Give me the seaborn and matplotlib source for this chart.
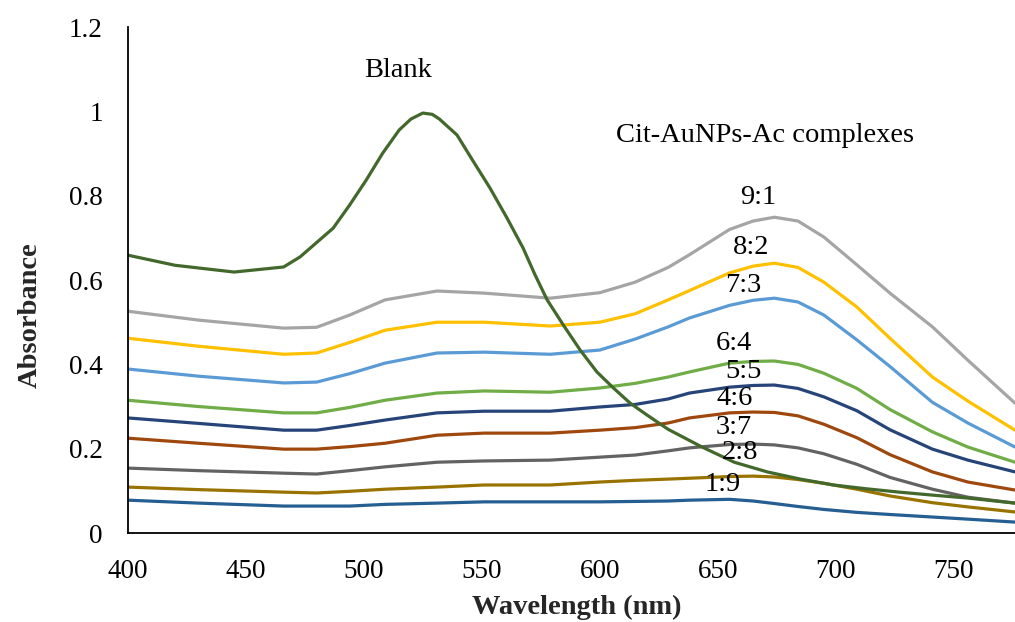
import pandas as pd
import matplotlib.pyplot as plt
import seaborn as sns

# wavelength grid shared by the Cit-AuNPs-Ac complex spectra (nm)
wavelength = [400, 430, 466, 480, 494, 509, 531, 551, 579, 600, 615, 629,
              638, 655, 665, 674, 684, 695, 709, 723, 741, 756, 776]

abs_9_1 = [0.526, 0.505, 0.486, 0.488, 0.517, 0.553, 0.574, 0.569, 0.557, 0.570, 0.595, 0.630,
           0.660, 0.720, 0.740, 0.749, 0.740, 0.702, 0.636, 0.569, 0.489, 0.410, 0.308]
abs_8_2 = [0.462, 0.443, 0.424, 0.427, 0.452, 0.481, 0.500, 0.500, 0.491, 0.500, 0.520, 0.553,
           0.575, 0.617, 0.633, 0.640, 0.630, 0.595, 0.536, 0.462, 0.370, 0.313, 0.244]
abs_7_3 = [0.389, 0.372, 0.356, 0.358, 0.378, 0.403, 0.427, 0.429, 0.424, 0.434, 0.460, 0.489,
           0.510, 0.540, 0.552, 0.557, 0.548, 0.517, 0.458, 0.395, 0.310, 0.261, 0.204]
abs_6_4 = [0.315, 0.300, 0.285, 0.285, 0.298, 0.315, 0.332, 0.337, 0.334, 0.344, 0.355, 0.370,
           0.382, 0.403, 0.407, 0.408, 0.400, 0.379, 0.343, 0.293, 0.240, 0.204, 0.168]
abs_5_5 = [0.273, 0.260, 0.244, 0.244, 0.255, 0.268, 0.285, 0.289, 0.289, 0.299, 0.305, 0.318,
           0.332, 0.346, 0.350, 0.351, 0.343, 0.323, 0.290, 0.245, 0.199, 0.173, 0.145]
abs_4_6 = [0.225, 0.213, 0.199, 0.199, 0.205, 0.213, 0.232, 0.237, 0.237, 0.244, 0.250, 0.261,
           0.273, 0.285, 0.287, 0.286, 0.278, 0.258, 0.226, 0.186, 0.145, 0.121, 0.102]
abs_3_7 = [0.154, 0.148, 0.142, 0.140, 0.148, 0.157, 0.168, 0.171, 0.173, 0.180, 0.185, 0.195,
           0.202, 0.210, 0.211, 0.209, 0.202, 0.188, 0.163, 0.132, 0.104, 0.085, 0.071]
abs_2_8 = [0.109, 0.103, 0.097, 0.095, 0.099, 0.104, 0.109, 0.114, 0.114, 0.121, 0.125, 0.128,
           0.130, 0.134, 0.135, 0.133, 0.127, 0.118, 0.104, 0.088, 0.072, 0.062, 0.050]
abs_1_9 = [0.078, 0.071, 0.064, 0.064, 0.064, 0.068, 0.071, 0.074, 0.074, 0.074, 0.075, 0.076,
           0.078, 0.080, 0.076, 0.070, 0.063, 0.056, 0.049, 0.044, 0.038, 0.033, 0.026]

# blank (citrate AuNPs) spectrum
blank_wl = [400, 420, 445, 466, 473, 487, 494, 501, 508, 515, 520, 525, 529, 532, 539.5,
            546, 553.5, 560.7, 567.5, 572.6, 577.7, 584.6, 591.7, 598.8, 605.8, 612.9,
            620, 629, 643, 657, 671, 685, 699, 713, 727, 741, 756, 776]
blank_abs = [0.659, 0.635, 0.619, 0.631, 0.655, 0.723, 0.778, 0.837, 0.901, 0.956,
             0.982, 0.996, 0.993, 0.982, 0.944, 0.885, 0.818, 0.747, 0.676, 0.612, 0.553,
             0.493, 0.434, 0.382, 0.344, 0.308, 0.280, 0.246, 0.205, 0.168, 0.145,
             0.128, 0.114, 0.105, 0.097, 0.090, 0.083, 0.071]

ratios = ["9:1", "8:2", "7:3", "6:4", "5:5", "4:6", "3:7", "2:8", "1:9"]
series = [abs_9_1, abs_8_2, abs_7_3, abs_6_4, abs_5_5, abs_4_6, abs_3_7, abs_2_8, abs_1_9]
colors = ["#A5A5A5", "#FFC000", "#5B9BD5", "#70AD47", "#264478",
          "#9E480E", "#636363", "#997300", "#255E91"]
blank_color = "#43682B"

# label anchor positions (nm, absorbance)
label_x = [667, 664, 661, 657, 661, 657, 657, 659.5, 652]
label_y = [0.795, 0.678, 0.588, 0.45, 0.382, 0.32, 0.251, 0.19, 0.114]

frames = [pd.DataFrame({"Wavelength": wavelength, "Absorbance": vals, "Sample": r})
          for r, vals in zip(ratios, series)]
frames.append(pd.DataFrame({"Wavelength": blank_wl, "Absorbance": blank_abs, "Sample": "Blank"}))
data = pd.concat(frames, ignore_index=True)

sns.set_theme(style="white")
plt.rcParams["font.family"] = ["Liberation Serif", "DejaVu Serif"]

fig = plt.figure(figsize=(10.15, 6.22), dpi=100)
ax = fig.add_axes([0.126, 0.143, 0.874, 0.8135])

palette = dict(zip(ratios, colors))
palette["Blank"] = blank_color
sns.lineplot(data=data, x="Wavelength", y="Absorbance", hue="Sample",
             hue_order=ratios + ["Blank"], palette=palette, linewidth=2.3,
             legend=False, ax=ax, estimator=None)

for r, lx, ly in zip(ratios, label_x, label_y):
    ax.text(lx, ly, r, fontsize=20.5, ha="center", va="center", color="black")
ax.text(514.5, 1.098, "Blank", fontsize=20.5, ha="center", va="center", color="black")
ax.text(670, 0.944, "Cit-AuNPs-Ac complexes", fontsize=20.5, ha="center", va="center",
        color="black")

ax.set_xlim(400, 776)
ax.set_ylim(0, 1.2)
ax.set_xticks([400, 450, 500, 550, 600, 650, 700, 750])
ax.set_yticks([0, 0.2, 0.4, 0.6, 0.8, 1.0, 1.2])
ax.set_yticklabels(["0", "0.2", "0.4", "0.6", "0.8", "1", "1.2"])
ax.tick_params(axis="both", labelsize=19.5, length=0, colors="black")
ax.tick_params(axis="y", pad=18)
ax.tick_params(axis="x", pad=19)

ax.set_xlabel("Wavelength (nm)", fontsize=20.5, fontweight="bold", va="center")
ax.set_ylabel("Absorbance", fontsize=20.5, fontweight="bold", va="center")
ax.xaxis.set_label_coords(0.506, -0.147)
ax.yaxis.set_label_coords(-0.11, 0.43)

for side in ["top", "right"]:
    ax.spines[side].set_visible(False)
for side in ["left", "bottom"]:
    ax.spines[side].set_color("black")
    ax.spines[side].set_linewidth(1.3)

fig.savefig("out.png", dpi=100)
